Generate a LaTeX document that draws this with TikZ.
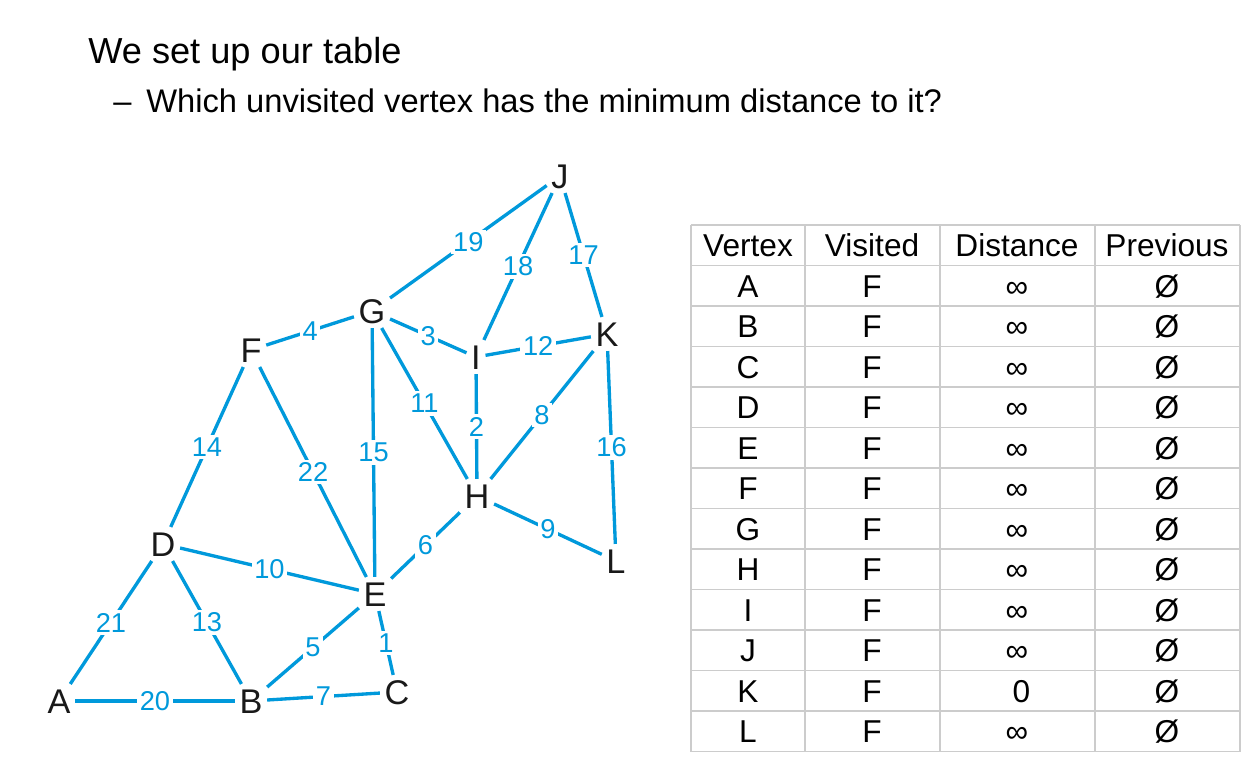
\documentclass[tikz,border=0pt]{standalone}
\usepackage{fontspec}
\setmainfont{Liberation Sans}
\usetikzlibrary{positioning}
\definecolor{edgeblue}{RGB}{0,153,219}
\definecolor{gridgray}{RGB}{204,204,204}

\begin{document}
\begin{tikzpicture}[
        x=0.02cm, y=-0.02cm,
        heading/.style={anchor=base west, inner sep=0pt, font=\fontsize{20.6}{24}\selectfont},
        subheading/.style={anchor=base west, inner sep=0pt, font=\fontsize{18.6}{22}\selectfont},
        vertex/.style={font=\fontsize{19.5}{19.5}\selectfont, text=black!90,
            text height=14pt, text depth=0pt, inner sep=2.5pt},
        edge/.style={draw=edgeblue, line width=1.9pt},
        weight/.style={fill=white, inner sep=1.5pt, text=edgeblue,
            font=\fontsize{15.5}{15.5}\selectfont},
        cell/.style={font=\fontsize{18}{18}\selectfont, text height=13pt,
            text depth=0pt, inner sep=0pt},
        gridline/.style={draw=gridgray, line width=1.1pt}
    ]
    \useasboundingbox (0,0) rectangle (1254,763);

    % Heading
    \node[heading] (title) at (88,64) {We set up our table};
    \node[subheading] (dash) at (113,113) {–};
    \node[subheading] (question) at (146,113) {Which unvisited vertex has the minimum distance to it?};

    % Vertices
    \node[vertex] (J) at (560,176) {J};
    \node[vertex] (G) at (372,311) {G};
    \node[vertex] (F) at (251,350) {F};
    \node[vertex] (I) at (476,357) {I};
    \node[vertex] (K) at (607,334) {K};
    \node[vertex] (H) at (477,496) {H};
    \node[vertex] (D) at (163,544) {D};
    \node[vertex] (E) at (375,594) {E};
    \node[vertex] (L) at (616,561) {L};
    \node[vertex] (A) at (59,701) {A};
    \node[vertex] (B) at (251,701) {B};
    \node[vertex] (C) at (397,692) {C};

    % Weighted edges
    \draw[edge] (J) -- node[weight] {19} (G);
    \draw[edge] (J) -- node[weight] {18} (I);
    \draw[edge] (J) -- node[weight] {17} (K);
    \draw[edge] (G) -- node[weight] {4} (F);
    \draw[edge] (G) -- node[weight] {3} (I);
    \draw[edge] (I) -- node[weight] {12} (K);
    \draw[edge] (G) -- node[weight] {11} (H);
    \draw[edge] (G) -- node[weight] {15} (E);
    \draw[edge] (I) -- node[weight] {2} (H);
    \draw[edge] (K) -- node[weight] {8} (H);
    \draw[edge] (K) -- node[weight] {16} (L);
    \draw[edge] (F) -- node[weight] {14} (D);
    \draw[edge] (F) -- node[weight] {22} (E);
    \draw[edge] (E) -- node[weight] {6} (H);
    \draw[edge] (H) -- node[weight] {9} (L);
    \draw[edge] (D) -- node[weight] {10} (E);
    \draw[edge] (D) -- node[weight] {21} (A);
    \draw[edge] (D) -- node[weight] {13} (B);
    \draw[edge] (B) -- node[weight] {5} (E);
    \draw[edge] (E) -- node[weight] {1} (C);
    \draw[edge] (A) -- node[weight] {20} (B);
    \draw[edge] (B) -- node[weight] {7} (C);

    % Table grid
    \foreach \k in {0,...,13}
        \draw[gridline] (691,{225+40.5*\k}) -- (1240,{225+40.5*\k});
    \foreach \xc in {691,805,940,1095,1240}
        \draw[gridline] (\xc,225) -- (\xc,751.5);

    % Table header
    \node[cell] (hvertex) at (748,245.25) {Vertex};
    \node[cell] (hvisited) at (872,245.25) {Visited};
    \node[cell] (hdistance) at (1017,245.25) {Distance};
    \node[cell] (hprevious) at (1167,245.25) {Previous};

    % Table rows
    \foreach \v/\d [count=\i] in {A/∞,B/∞,C/∞,D/∞,E/∞,F/∞,G/∞,H/∞,I/∞,J/∞,K/\ 0,L/∞} {
        \node[cell] (v\i) at (748,{245.25+40.5*\i}) {\v};
        \node[cell] (f\i) at (872,{245.25+40.5*\i}) {F};
        \node[cell] (d\i) at (1017,{245.25+40.5*\i}) {\d};
        \node[cell] (p\i) at (1167,{245.25+40.5*\i}) {Ø};
    }
\end{tikzpicture}
\end{document}
